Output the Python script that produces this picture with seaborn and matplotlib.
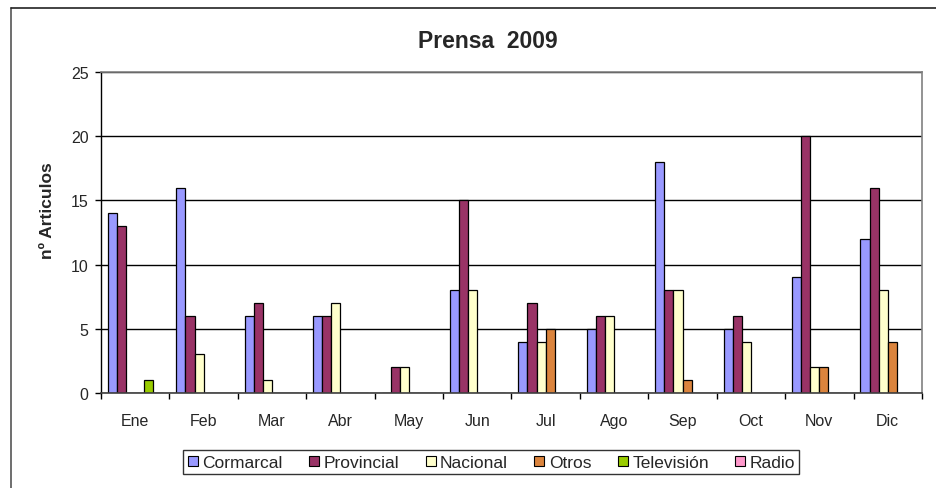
import pandas as pd
import seaborn as sns
import matplotlib.pyplot as plt
from matplotlib.lines import Line2D

months = ["Ene", "Feb", "Mar", "Abr", "May", "Jun", "Jul", "Ago", "Sep", "Oct", "Nov", "Dic"]
series = ["Cormarcal", "Provincial", "Nacional", "Otros", "Televisión", "Radio"]

cormarcal = [14, 16, 6, 6, 0, 8, 4, 5, 18, 5, 9, 12]
provincial = [13, 6, 7, 6, 2, 15, 7, 6, 8, 6, 20, 16]
nacional = [0, 3, 1, 7, 2, 8, 4, 6, 8, 4, 2, 8]
otros = [0, 0, 0, 0, 0, 0, 5, 0, 1, 0, 2, 4]
television = [1, 0, 0, 0, 0, 0, 0, 0, 0, 0, 0, 0]
radio = [0, 0, 0, 0, 0, 0, 0, 0, 0, 0, 0, 0]

colors = ["#9999FF", "#993366", "#FFFFCC", "#DB843D", "#99CC00", "#FF99CC"]

# long format table for seaborn
rows = []
for name, vals in zip(series, [cormarcal, provincial, nacional, otros, television, radio]):
    for m, v in zip(months, vals):
        rows.append({"Mes": m, "Medio": name, "Articulos": v})
df = pd.DataFrame(rows)

sns.set_style("white")
plt.rcParams['font.family'] = ['Liberation Sans', 'DejaVu Sans']

fig = plt.figure(figsize=(9.37, 4.89), dpi=100)
ax = fig.add_axes([101 / 937, 1 - 394 / 489, (922 - 101) / 937, (394 - 73) / 489])

sns.barplot(data=df, x="Mes", y="Articulos", hue="Medio", order=months, hue_order=series,
            palette=colors, edgecolor="black", linewidth=0.9, width=0.8, gap=0,
            saturation=1, ax=ax, legend=False)

ax.set_xlim(-0.5, 11.5)
ax.set_ylim(0, 25)
ax.set_yticks([0, 5, 10, 15, 20, 25])
ax.set_axisbelow(True)
ax.yaxis.grid(True, color="black", linewidth=1.0)
ax.xaxis.grid(False)

for s in ["top", "right"]:
    ax.spines[s].set_color("#808080")
    ax.spines[s].set_linewidth(1.2)
ax.spines["left"].set_color("black")
ax.spines["bottom"].set_color("#404040")
ax.spines["left"].set_linewidth(1.0)
ax.spines["bottom"].set_linewidth(1.2)

ax.tick_params(axis="y", which="major", left=True, length=4, width=1, color="black",
               labelsize=11.5, pad=5)
ax.tick_params(axis="x", which="major", bottom=False, labelsize=11.5, pad=11)
ax.set_xticks([i + 0.5 for i in range(-1, 12)], minor=True)
ax.tick_params(axis="x", which="minor", bottom=True, length=4, width=1, color="black")

ax.set_xlabel("")
ax.set_ylabel("nº Articulos", fontsize=12.5, fontweight="bold")
ax.yaxis.set_label_coords((55 - 101) / 821, (394 - 211) / 321)

fig.text(488 / 937, 1 - 42 / 489, "Prensa  2009", ha="center", va="center",
         fontsize=16.5, fontweight="bold")

handles = [Line2D([], [], marker="s", linestyle="none", markersize=7.5,
                  markerfacecolor=c, markeredgecolor="black", markeredgewidth=0.8)
           for c in colors]
leg = fig.legend(handles, series, loc="center", bbox_to_anchor=(491 / 937, 1 - 463 / 489),
                 ncol=6, frameon=True, fancybox=False, edgecolor="black", fontsize=12.5,
                 handlelength=0.7, handletextpad=0.2, columnspacing=1.45,
                 borderpad=0.25, borderaxespad=0)
leg.get_frame().set_linewidth(1.0)

# outer chart border
fig.add_artist(Line2D([11 / 937, 11 / 937], [0, 1 - 9 / 489], color="#555555", linewidth=1.2,
                      transform=fig.transFigure))
fig.add_artist(Line2D([11 / 937, 1], [1 - 9 / 489, 1 - 9 / 489], color="#222222", linewidth=1.2,
                      transform=fig.transFigure))

fig.savefig("out.png", dpi=100)
